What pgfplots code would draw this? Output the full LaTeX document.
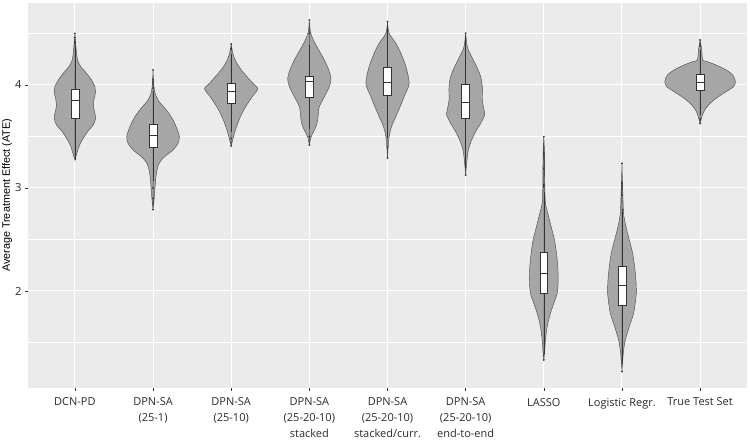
\documentclass[border=0pt]{standalone}
\usepackage{fontspec}
\setmainfont{Open Sans}
\newfontfamily\labfont{Liberation Sans}
\usepackage{pgfplots}
\usepackage{pgfplotstable}
\pgfplotsset{compat=1.18}
\usepgfplotslibrary{fillbetween,statistics}
\definecolor{panelbg}{HTML}{EBEBEB}
\definecolor{vfill}{HTML}{A6A6A6}
\definecolor{vline}{HTML}{4D4D4D}
\definecolor{boxline}{HTML}{333333}
\definecolor{ticktext}{HTML}{2B2B2B}

\pgfplotstableread{
y w
3.272 0
3.337 0.026
3.401 0.051
3.466 0.094
3.547 0.162
3.612 0.235
3.676 0.265
3.725 0.256
3.790 0.237
3.854 0.243
3.935 0.265
3.984 0.256
4.049 0.213
4.113 0.149
4.178 0.077
4.243 0.034
4.372 0.013
4.502 0
}\vA
\pgfplotstableread{
y w
2.786 0
2.883 0.013
3.013 0.026
3.142 0.043
3.239 0.077
3.304 0.149
3.369 0.256
3.434 0.320
3.498 0.337
3.563 0.312
3.660 0.256
3.757 0.171
3.854 0.064
3.951 0.017
4.146 0
}\vB
\pgfplotstableread{
y w
3.410 0
3.498 0.030
3.563 0.055
3.660 0.100
3.757 0.160
3.854 0.240
3.887 0.270
3.935 0.320
3.968 0.341
4.000 0.300
4.065 0.220
4.146 0.130
4.227 0.060
4.307 0.021
4.398 0
}\vC
\pgfplotstableread{
y w
3.417 0
3.482 0.017
3.531 0.043
3.595 0.085
3.660 0.107
3.725 0.115
3.790 0.128
3.887 0.192
3.984 0.256
4.065 0.277
4.146 0.248
4.243 0.192
4.340 0.120
4.437 0.051
4.518 0.013
4.631 0
}\vD
\pgfplotstableread{
y w
3.288 0
3.401 0.009
3.498 0.021
3.595 0.051
3.693 0.107
3.790 0.162
3.887 0.213
4.016 0.277
4.178 0.235
4.307 0.171
4.405 0.107
4.502 0.021
4.615 0
}\vE
\pgfplotstableread{
y w
3.126 0
3.272 0.017
3.369 0.034
3.466 0.077
3.547 0.128
3.628 0.192
3.709 0.243
3.757 0.235
3.854 0.213
3.984 0.213
4.081 0.192
4.178 0.141
4.275 0.077
4.372 0.021
4.502 0
}\vF
\pgfplotstableread{
y w
1.330 0
1.395 0.009
1.524 0.021
1.654 0.043
1.783 0.085
1.880 0.128
1.977 0.171
2.107 0.184
2.236 0.179
2.366 0.162
2.495 0.137
2.625 0.094
2.754 0.051
2.851 0.021
3.013 0.013
3.337 0.009
3.498 0
}\vG
\pgfplotstableread{
y w
1.217 0
1.395 0.017
1.524 0.043
1.654 0.094
1.783 0.149
1.913 0.175
1.977 0.184
2.107 0.179
2.236 0.162
2.366 0.137
2.495 0.094
2.625 0.051
2.754 0.021
3.000 0.009
3.239 0
}\vH
\pgfplotstableread{
y w
3.628 0
3.676 0.017
3.741 0.047
3.806 0.107
3.871 0.205
3.935 0.333
3.984 0.427
4.032 0.452
4.097 0.418
4.146 0.333
4.194 0.205
4.227 0.090
4.243 0.034
4.340 0.021
4.437 0
}\vI

\newcommand{\violin}[2]{%
  \addplot[draw=none, smooth, tension=0.5, name path=R#1] table[x expr=#1+\thisrow{w}, y=y] {#2};
  \addplot[draw=none, smooth, tension=0.5, name path=L#1] table[x expr=#1-\thisrow{w}, y=y] {#2};
  \addplot[fill=vfill, draw=vline, line width=0.45pt] fill between[of=R#1 and L#1];
}
\newcommand{\bx}[7]{%
  \addplot[draw=boxline, line width=0.5pt, fill=white, mark=*, mark size=0.6pt,
    mark options={draw=boxline, fill=boxline},
    boxplot prepared={lower whisker=#2, lower quartile=#3, median=#4,
      upper quartile=#5, upper whisker=#6, draw position=#1},
    boxplot/draw direction=y, boxplot/box extend=0.1, boxplot/whisker extend=0]
    coordinates {#7};
}

\begin{document}
\begin{tikzpicture}
\begin{axis}[
  scale only axis, width=719pt, height=385pt,
  xmin=0.4, xmax=9.6, ymin=1.058, ymax=4.796,
  axis background/.style={fill=panelbg},
  axis line style={draw=none},
  xtick={1,2,3,4,5,6,7,8,9},
  xticklabels={DCN-PD, {DPN-SA\\(25-1)}, {DPN-SA\\(25-10)}, {DPN-SA\\(25-20-10)\\stacked},
    {DPN-SA\\(25-20-10)\\stacked/curr.}, {DPN-SA\\(25-20-10)\\end-to-end}, LASSO, Logistic Regr., True Test Set},
  ytick={2,3,4}, minor ytick={1.5,2.5,3.5,4.5},
  grid=both,
  major grid style={white, line width=1pt},
  minor grid style={white, line width=0.5pt},
  tick align=outside, tick pos=left,
  major tick length=3pt, minor tick length=0pt,
  tick style={draw=boxline, line width=0.5pt},
  /pgf/number format/assume math mode=true,
  xticklabel style={align=center, font=\fontsize{11}{16}\selectfont, text=ticktext, anchor=north, yshift=-3.5pt},
  yticklabel style={font=\fontsize{11.2}{12}\selectfont, text=ticktext},
  ylabel={Average Treatment Effect (ATE)},
  every axis y label/.style={at={(axis description cs:-0.0292,0.5)}, rotate=90, anchor=center,
    font=\labfont\fontsize{10.8}{12}\selectfont},
]
\violin{1}{\vA}
\violin{2}{\vB}
\violin{3}{\vC}
\violin{4}{\vD}
\violin{5}{\vE}
\violin{6}{\vF}
\violin{7}{\vG}
\violin{8}{\vH}
\violin{9}{\vI}
\bx{1}{3.272}{3.677}{3.848}{3.961}{4.38}{(1,4.42) (1,4.46) (1,4.50)}
\bx{2}{3.07}{3.398}{3.508}{3.618}{3.94}{(2,3.97) (2,4.05) (2,4.146) (2,3.0) (2,2.9) (2,2.79)}
\bx{3}{3.54}{3.822}{3.942}{4.016}{4.30}{(3,4.35) (3,4.398) (3,3.48) (3,3.41)}
\bx{4}{3.57}{3.880}{4.032}{4.087}{4.39}{(4,4.5) (4,4.63) (4,3.5) (4,3.417)}
\bx{5}{3.49}{3.897}{4.026}{4.171}{4.58}{(5,4.615) (5,3.4) (5,3.29)}
\bx{6}{3.19}{3.676}{3.83}{4.003}{4.49}{(6,4.502) (6,3.126)}
\bx{7}{1.39}{1.978}{2.172}{2.372}{2.96}{(7,3.01) (7,3.03) (7,3.19) (7,3.34) (7,3.498) (7,1.33)}
\bx{8}{1.29}{1.857}{2.051}{2.236}{2.80}{(8,2.93) (8,3.05) (8,3.239) (8,1.217)}
\bx{9}{3.71}{3.945}{4.023}{4.103}{4.34}{(9,4.38) (9,4.437) (9,3.67) (9,3.628)}
\end{axis}
\path (current axis.south west) ++(-28pt,-52pt) coordinate (bl);
\path (current axis.north east) ++(3pt,3pt) coordinate (tr);
\pgfresetboundingbox
\path[use as bounding box] (bl) rectangle (tr);
\end{tikzpicture}
\end{document}
